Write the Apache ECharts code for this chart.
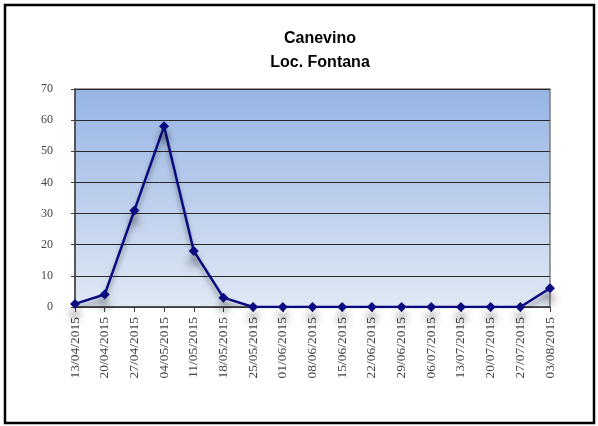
<!DOCTYPE html>
<html>
<head>
<meta charset="utf-8">
<script src="https://cdn.jsdelivr.net/npm/echarts@6/dist/echarts.min.js"></script>
<style>
  html, body { margin: 0; padding: 0; background: #fff; }
  #chart1 { width: 598px; height: 426px; }
</style>
</head>
<body>
<div id="chart1"></div>
<script>
const dates = [
  "13/04/2015", "20/04/2015", "27/04/2015", "04/05/2015", "11/05/2015",
  "18/05/2015", "25/05/2015", "01/06/2015", "08/06/2015", "15/06/2015",
  "22/06/2015", "29/06/2015", "06/07/2015", "13/07/2015", "20/07/2015",
  "27/07/2015", "03/08/2015"
];
const values = [1, 4, 31, 58, 18, 3, 0, 0, 0, 0, 0, 0, 0, 0, 0, 0, 6];
const yTicks = [0, 10, 20, 30, 40, 50, 60, 70];

const option = {
  animation: false,
  title: {
    text: "Canevino\nLoc. Fontana",
    left: 315,
    top: 22,
    textAlign: "center",
    textStyle: {
      fontFamily: "Liberation Sans",
      fontWeight: "bold",
      fontSize: 16,
      lineHeight: 24,
      color: "#000",
    },
  },
  graphic: [
    {
      type: "rect",
      shape: { x: 5, y: 5, width: 589, height: 418 },
      style: { fill: "none", stroke: "#000", lineWidth: 2.5 },
      silent: true,
    },
  ],
  grid: {
    left: 75,
    right: 48,
    top: 89,
    bottom: 119,
    show: true,
    borderColor: "#7f7f7f",
    borderWidth: 1.5,
    backgroundColor: new echarts.graphic.LinearGradient(0, 0, 0, 1, [
      { offset: 0, color: "#96b4e4" },
      { offset: 1, color: "#e0e8f4" },
    ]),
  },
  xAxis: {
    type: "category",
    boundaryGap: false,
    data: dates,
    axisLine: { lineStyle: { color: "#404040", width: 1.5 } },
    axisTick: { show: true, length: 5, lineStyle: { color: "#404040" } },
    axisLabel: {
      rotate: 90,
      interval: 0,
      margin: 10,
      fontFamily: "Liberation Serif",
      fontSize: 13.5,
      color: "#444",
    },
  },
  yAxis: {
    type: "value",
    min: yTicks[0],
    max: yTicks[yTicks.length - 1],
    interval: 10,
    axisLine: { show: true, lineStyle: { color: "#404040", width: 1.5 } },
    axisTick: { show: true, length: 4, lineStyle: { color: "#404040" } },
    splitLine: { lineStyle: { color: "#2a2a2a", width: 1 } },
    axisLabel: {
      margin: 22,
      fontFamily: "Liberation Serif",
      fontSize: 12,
      color: "#444",
    },
  },
  series: [
    {
      type: "line",
      data: values,
      symbol: "diamond",
      symbolSize: 10,
      lineStyle: {
        color: "#0a0a80",
        width: 2.5,
        shadowColor: "rgba(0,0,0,0.4)",
        shadowBlur: 5,
        shadowOffsetY: 5,
      },
      itemStyle: {
        color: "#0a0a80",
        shadowColor: "rgba(0,0,0,0.5)",
        shadowBlur: 8,
        shadowOffsetY: 10,
      },
    },
  ],
};

let myChart = echarts.init(document.getElementById("chart1"));
myChart.setOption(option);
</script>
</body>
</html>
